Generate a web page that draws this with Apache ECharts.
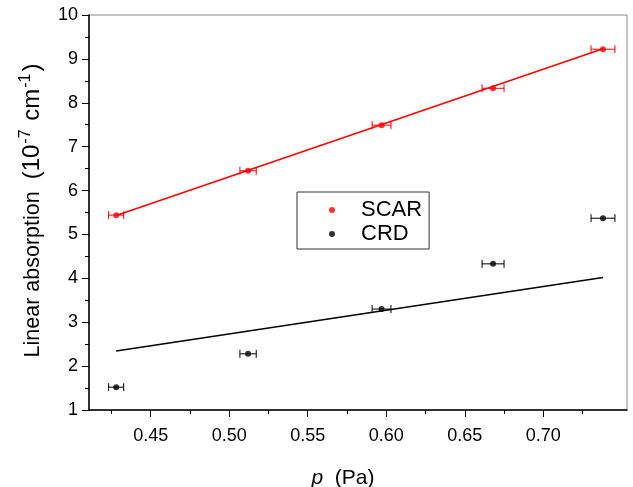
<!DOCTYPE html>
<html>
<head>
<meta charset="utf-8">
<script src="https://cdn.jsdelivr.net/npm/echarts@6/dist/echarts.min.js"></script>
<style>
html,body{margin:0;padding:0;background:#fff;}
#chart{width:633px;height:487px;}
</style>
</head>
<body>
<div id="chart"></div>
<script>
// ---- data ----
const pressure = [0.428, 0.512, 0.597, 0.668, 0.738];
const pressureErr = [0.0048, 0.0052, 0.0060, 0.0070, 0.0076];
const scar = [5.44, 6.45, 7.49, 8.33, 9.22];
const crd = [1.52, 2.28, 3.30, 4.33, 5.37];
const scarFitX = [0.428, 0.738];
const scarFitY = [5.43, 9.23];
const crdLineX = [0.428, 0.738];
const crdLineY = [2.345, 4.02];
const xMajorTicks = [0.45, 0.50, 0.55, 0.60, 0.65, 0.70];
const xMinorTicks = [0.425, 0.475, 0.525, 0.575, 0.625, 0.675, 0.725];
const xRange = [0.4107, 0.7533];
const yRange = [1, 10];

const FONT = "'Liberation Sans', Arial, sans-serif";
const RED = '#ff0000';
const BLACK = '#000000';

function errorBarSeries(name, ys, color) {
  return {
    type: 'custom',
    name: name + ' err',
    data: pressure.map((p, i) => [p, ys[i], pressureErr[i]]),
    z: 3,
    renderItem: function (params, api) {
      const x = api.value(0), y = api.value(1), e = api.value(2);
      const a = api.coord([x - e, y]);
      const b = api.coord([x + e, y]);
      const h = 4;
      const st = { stroke: color, lineWidth: 1 };
      return {
        type: 'group',
        children: [
          { type: 'line', shape: { x1: a[0], y1: a[1], x2: b[0], y2: b[1] }, style: st },
          { type: 'line', shape: { x1: a[0], y1: a[1] - h, x2: a[0], y2: a[1] + h }, style: st },
          { type: 'line', shape: { x1: b[0], y1: b[1] - h, x2: b[0], y2: b[1] + h }, style: st }
        ]
      };
    }
  };
}

const chart = echarts.init(document.getElementById('chart'), null, { renderer: 'canvas' });
chart.setOption({
  animation: false,
  backgroundColor: '#fff',
  grid: { left: 89, top: 15, right: 6, bottom: 77, outerBoundsMode: 'none', containLabel: false,
          show: true, borderColor: '#888', borderWidth: 1, backgroundColor: 'transparent' },
  legend: {
    data: ['SCAR', 'CRD'],
    orient: 'vertical',
    left: 297, top: 192,
    padding: [7, 7, 4, 32],
    itemWidth: 6, itemHeight: 6, itemGap: 2,
    icon: 'circle',
    borderColor: '#333', borderWidth: 1,
    textStyle: { fontFamily: FONT, fontSize: 22, color: '#000', padding: [0, 0, 0, 21] }
  },
  xAxis: [{
    type: 'value', min: xRange[0], max: xRange[1], position: 'bottom',
    axisLine: { show: true, lineStyle: { color: BLACK, width: 1.5 } },
    axisTick: { show: true, inside: false, length: 7, customValues: xMajorTicks, lineStyle: { color: BLACK, width: 1 } },
    axisLabel: { customValues: xMajorTicks, formatter: v => v.toFixed(2), fontFamily: FONT, fontSize: 18, color: '#000', margin: 17 },
    splitLine: { show: false },
    name: '{i|p}{n|  (Pa)}', nameLocation: 'middle', nameGap: 58,
    nameTextStyle: { padding: [0, 30, 0, 0], rich: {
      i: { fontFamily: FONT, fontSize: 21, fontStyle: 'italic', color: '#000' },
      n: { fontFamily: FONT, fontSize: 21, color: '#000' }
    } }
  }, {
    type: 'value', min: xRange[0], max: xRange[1], position: 'bottom', offset: 0,
    axisLine: { show: false },
    axisTick: { show: true, inside: false, length: 4, customValues: xMinorTicks, lineStyle: { color: BLACK, width: 1 } },
    axisLabel: { show: false },
    splitLine: { show: false }
  }],
  yAxis: {
    type: 'value', min: yRange[0], max: yRange[1], interval: 1,
    axisLine: { show: true, lineStyle: { color: BLACK, width: 1.5 } },
    axisTick: { show: true, inside: false, length: 7, lineStyle: { color: BLACK, width: 1 } },
    minorTick: { show: true, splitNumber: 2, length: 4, lineStyle: { color: BLACK, width: 1 } },
    axisLabel: { fontFamily: FONT, fontSize: 18, color: '#000', margin: 11 },
    splitLine: { show: false },
    name: '{a|Linear absorption  }{b|(10}{s|-7}{b| cm}{s|-1}{b|)}',
    nameLocation: 'middle', nameGap: 45, nameRotate: 90,
    nameTextStyle: { padding: [0, 0, 0, 4], rich: {
      a: { fontFamily: FONT, fontSize: 21.5, color: '#000', verticalAlign: 'bottom', lineHeight: 26 },
      b: { fontFamily: FONT, fontSize: 24, color: '#000', verticalAlign: 'bottom', lineHeight: 26 },
      s: { fontFamily: FONT, fontSize: 16, color: '#000', verticalAlign: 'top', lineHeight: 26, padding: [0, 2, 0, 1] }
    } }
  },
  series: [
    { type: 'line', name: 'SCAR fit', data: scarFitX.map((x, i) => [x, scarFitY[i]]), symbol: 'none',
      lineStyle: { color: RED, width: 1.5 }, z: 2 },
    { type: 'line', name: 'CRD line', data: crdLineX.map((x, i) => [x, crdLineY[i]]), symbol: 'none',
      lineStyle: { color: BLACK, width: 1.5 }, z: 2 },
    errorBarSeries('SCAR', scar, RED),
    errorBarSeries('CRD', crd, BLACK),
    { type: 'scatter', name: 'SCAR', data: pressure.map((p, i) => [p, scar[i]]), symbol: 'circle', symbolSize: 6,
      itemStyle: { color: RED }, z: 4 },
    { type: 'scatter', name: 'CRD', data: pressure.map((p, i) => [p, crd[i]]), symbol: 'circle', symbolSize: 6,
      itemStyle: { color: BLACK }, z: 4 }
  ]
});
</script>
</body>
</html>
